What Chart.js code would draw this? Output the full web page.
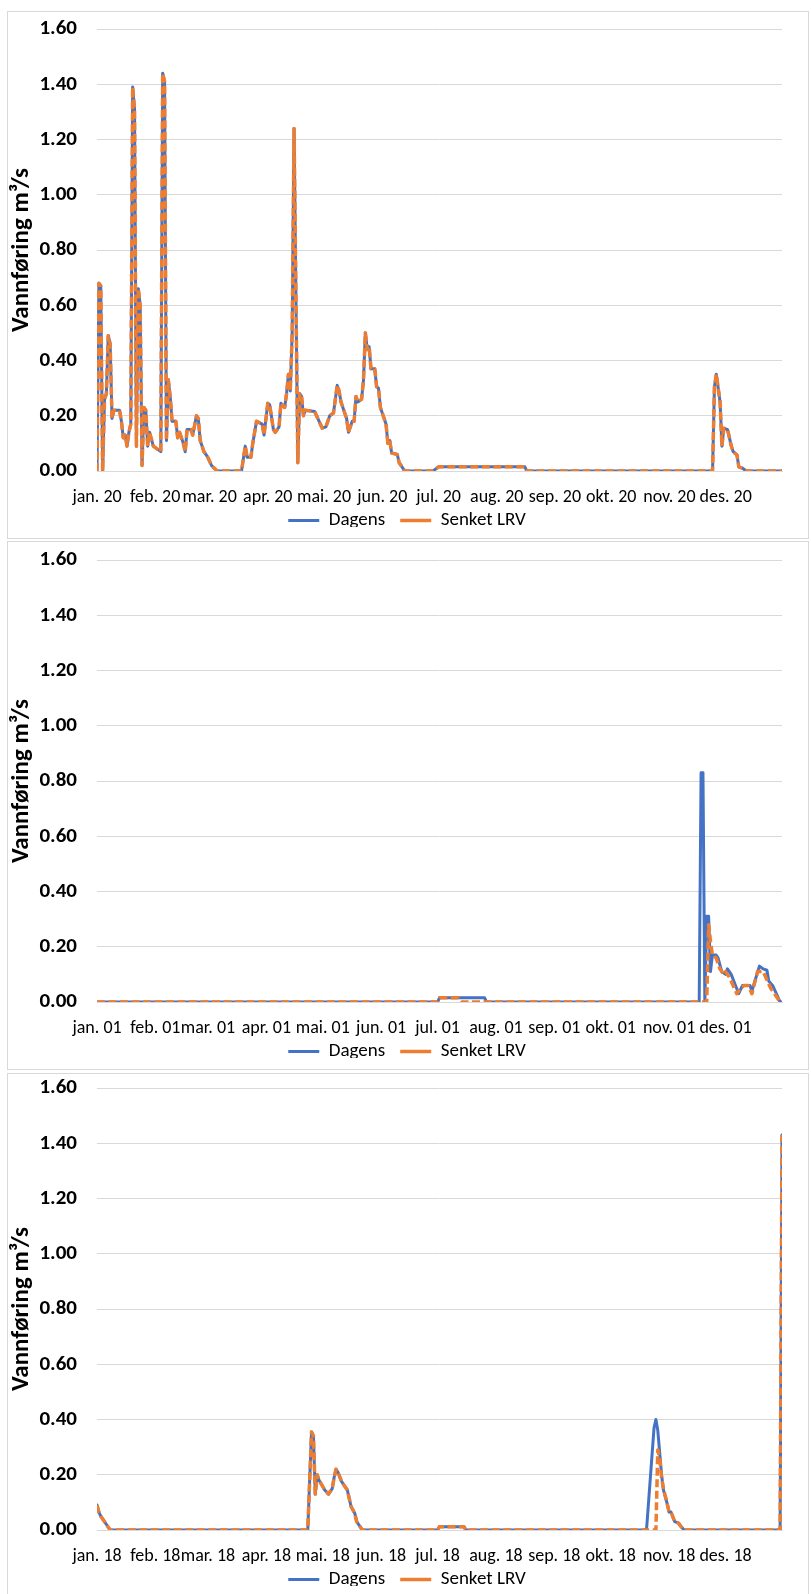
<!DOCTYPE html>
<html>
<head>
<meta charset="utf-8">
<script src="https://cdn.jsdelivr.net/npm/chart.js@4.4.1/dist/chart.umd.min.js"></script>
<style>
  html, body { margin: 0; padding: 0; background: #ffffff; }
  body { position: relative; width: 811px; height: 1594px; overflow: hidden; }
  .frame { position: absolute; left: 7px; width: 802px; border: 1px solid #d9d9d9; box-sizing: border-box; }
  canvas { position: absolute; left: 0; }
</style>
</head>
<body>
<div class="frame" style="top:11px;height:528px;"></div>
<div class="frame" style="top:541px;height:529px;"></div>
<div class="frame" style="top:1073px;height:540px;"></div>
<canvas id="c2020" width="811" height="527" style="top:11px;"></canvas>
<canvas id="c2001" width="811" height="527" style="top:542px;"></canvas>
<canvas id="c2018" width="811" height="527" style="top:1070px;"></canvas>
<script>
// Daily discharge (m³/s), day of year counted from 0, one panel per year.
const monthNames = ['jan.', 'feb.', 'mar.', 'apr.', 'mai.', 'jun.', 'jul.', 'aug.', 'sep.', 'okt.', 'nov.', 'des.'];
const monthStartsLeap = [0, 31, 60, 91, 121, 152, 182, 213, 244, 274, 305, 335];
const monthStarts = [0, 31, 59, 90, 120, 151, 181, 212, 243, 273, 304, 334];
const yTicks = [0, 0.2, 0.4, 0.6, 0.8, 1.0, 1.2, 1.4, 1.6];

// 2020 — both scenarios coincide
const days2020 = [0, 1, 2, 3, 4, 5, 6, 7, 8, 9, 12, 13, 14, 15, 16, 17, 18, 19, 20, 21, 22, 23, 24, 25, 26, 27, 28, 30, 32, 34, 35, 36, 37, 38, 39, 40, 42, 43, 44, 46, 47, 48, 50, 51, 53, 54, 55, 57, 59, 61, 64, 77, 79, 80, 82, 83, 85, 88, 89, 91, 92, 94, 95, 97, 98, 100, 101, 102, 103, 104, 105, 107, 108, 109, 110, 111, 116, 118, 120, 122, 124, 126, 127, 128, 129, 130, 132, 133, 134, 136, 137, 138, 139, 141, 142, 143, 144, 145, 146, 148, 149, 150, 151, 152, 154, 155, 156, 157, 160, 161, 164, 179, 182, 228, 229, 328, 329, 330, 331, 332, 333, 334, 336, 338, 339, 341, 342, 344, 346, 365];
const flow2020 = [0, 0.68, 0.67, 0, 0.26, 0.28, 0.49, 0.46, 0.19, 0.22, 0.22, 0.18, 0.12, 0.13, 0.09, 0.14, 0.17, 1.39, 1.31, 0.09, 0.66, 0.60, 0.02, 0.23, 0.22, 0.09, 0.14, 0.09, 0.08, 0.07, 1.44, 1.41, 0.11, 0.33, 0.27, 0.18, 0.18, 0.12, 0.14, 0.10, 0.07, 0.15, 0.15, 0.13, 0.20, 0.19, 0.11, 0.07, 0.05, 0.02, 0, 0, 0.09, 0.05, 0.05, 0.10, 0.18, 0.17, 0.13, 0.245, 0.24, 0.15, 0.14, 0.16, 0.245, 0.23, 0.28, 0.35, 0.29, 0.50, 1.24, 0.03, 0.28, 0.27, 0.20, 0.22, 0.215, 0.185, 0.155, 0.16, 0.20, 0.21, 0.26, 0.31, 0.29, 0.25, 0.21, 0.19, 0.14, 0.18, 0.18, 0.27, 0.25, 0.26, 0.33, 0.50, 0.44, 0.45, 0.37, 0.37, 0.305, 0.30, 0.23, 0.21, 0.17, 0.10, 0.11, 0.065, 0.06, 0.03, 0, 0, 0.015, 0.015, 0, 0, 0.305, 0.35, 0.30, 0.25, 0.09, 0.155, 0.15, 0.09, 0.07, 0.058, 0.015, 0.01, 0, 0];

// 2001
const daysDagens2001 = [0, 181, 182, 206, 207, 320, 321, 322, 323, 324, 325, 326, 327, 329, 330, 332, 334, 335, 337, 339, 341, 343, 347, 348, 352, 354, 356, 357, 359, 361, 363, 364];
const dagens2001 = [0, 0, 0.015, 0.015, 0, 0, 0.83, 0.83, 0, 0.31, 0.31, 0.11, 0.17, 0.17, 0.16, 0.11, 0.10, 0.12, 0.10, 0.065, 0.03, 0.06, 0.06, 0.04, 0.13, 0.12, 0.115, 0.075, 0.06, 0.03, 0, 0];
const daysSenket2001 = [0, 181, 182, 192, 194, 324, 325, 326, 327, 329, 331, 333, 334, 336, 338, 340, 342, 344, 346, 348, 351, 354, 356, 358, 360, 362, 363, 364];
const senket2001 = [0, 0, 0.015, 0.015, 0, 0, 0.28, 0.22, 0.17, 0.16, 0.12, 0.10, 0.11, 0.09, 0.06, 0.03, 0.05, 0.06, 0.06, 0.03, 0.11, 0.11, 0.08, 0.05, 0.03, 0.01, 0, 0];

// 2018
const daysDagens2018 = [0, 1, 2, 3, 4, 5, 6, 7, 112, 114, 115, 116, 117, 118, 121, 123, 125, 126, 127, 128, 130, 131, 133, 135, 137, 138, 141, 181, 182, 195, 196, 292, 296, 297, 298, 299, 300, 301, 303, 304, 305, 307, 309, 310, 312, 363, 364];
const dagens2018 = [0.09, 0.065, 0.05, 0.04, 0.03, 0.02, 0.01, 0, 0, 0.355, 0.34, 0.13, 0.20, 0.18, 0.145, 0.13, 0.15, 0.19, 0.22, 0.21, 0.175, 0.165, 0.145, 0.085, 0.06, 0.03, 0, 0, 0.012, 0.012, 0, 0, 0.37, 0.40, 0.36, 0.28, 0.20, 0.145, 0.095, 0.065, 0.065, 0.03, 0.025, 0.015, 0, 0, 1.43];
const daysSenket2018 = [0, 1, 2, 3, 4, 5, 6, 7, 112, 114, 115, 116, 117, 118, 121, 123, 125, 126, 127, 128, 130, 131, 133, 135, 137, 138, 141, 181, 182, 195, 196, 297, 298, 299, 300, 301, 303, 304, 305, 307, 309, 310, 312, 363, 364];
const senket2018 = [0.09, 0.065, 0.05, 0.04, 0.03, 0.02, 0.01, 0, 0, 0.355, 0.34, 0.13, 0.20, 0.18, 0.145, 0.13, 0.15, 0.19, 0.22, 0.21, 0.175, 0.165, 0.145, 0.085, 0.06, 0.03, 0, 0, 0.012, 0.012, 0, 0, 0.29, 0.26, 0.19, 0.15, 0.095, 0.065, 0.065, 0.03, 0.025, 0.015, 0, 0, 1.43];

const FONT = 'Carlito, Lato, "Liberation Sans Narrow", sans-serif';
const BLUE = '#4472C4';
const ORANGE = '#ED7D31';

function toPoints(days, values) {
  return days.map((d, i) => ({ x: d, y: values[i] }));
}

// fixed-height legend strip, drawn a little higher and right of its box
const fixedLegend = {
  id: 'fixedLegend',
  afterInit(chart) {
    const lg = chart.legend;
    if (!lg) return;
    const fit = lg.fit.bind(lg);
    lg.fit = function () { fit(); this.height = 31; };
    const draw = lg.draw.bind(lg);
    lg.draw = function () {
      const ctx = this.ctx;
      ctx.save();
      ctx.translate(16, -11);
      draw();
      ctx.restore();
    };
  }
};

function makeChart(id, yearSuffix, starts, lastDay, dagens, senket) {
  const labelFor = {};
  starts.forEach((d, i) => { labelFor[d] = monthNames[i] + ' ' + yearSuffix; });
  return new Chart(document.getElementById(id), {
    type: 'line',
    data: {
      datasets: [
        {
          label: 'Dagens',
          data: dagens,
          borderColor: BLUE,
          backgroundColor: BLUE,
          borderWidth: 3,
          borderJoinStyle: 'round',
          borderCapStyle: 'round',
          pointRadius: 0,
          pointStyle: 'line',
          tension: 0,
          order: 1
        },
        {
          label: 'Senket LRV',
          data: senket,
          borderColor: ORANGE,
          backgroundColor: ORANGE,
          borderWidth: 3.5,
          borderDash: [8, 3.5],
          borderJoinStyle: 'round',
          pointRadius: 0,
          pointStyle: 'line',
          tension: 0,
          order: 0
        }
      ]
    },
    options: {
      responsive: false,
      animation: false,
      devicePixelRatio: 1,
      layout: { padding: { top: 18, right: 29, bottom: 0, left: 0 } },
      plugins: {
        tooltip: { enabled: false },
        legend: {
          position: 'bottom',
          labels: {
            usePointStyle: true,
            pointStyle: 'line',
            pointStyleWidth: 31,
            padding: 15,
            color: '#000000',
            font: { family: FONT, size: 19 },
            sort: (a, b) => a.datasetIndex - b.datasetIndex
          }
        }
      },
      scales: {
        x: {
          type: 'linear',
          min: 0,
          max: lastDay,
          grid: { display: false, drawTicks: false },
          border: { display: true, color: '#d9d9d9', width: 1 },
          afterBuildTicks(scale) { scale.ticks = starts.map(v => ({ value: v })); },
          afterFit(scale) { scale.height = 36; },
          ticks: {
            autoSkip: false,
            maxRotation: 0,
            minRotation: 0,
            padding: 16,
            color: '#000000',
            font: { family: FONT, size: 18 },
            callback: (v) => labelFor[v] || ''
          }
        },
        y: {
          min: 0,
          max: 1.6,
          afterBuildTicks(scale) { scale.ticks = yTicks.map(v => ({ value: v })); },
          afterFit(scale) {
            scale.width = 97;
            scale.paddingTop = 10;
            scale.paddingBottom = 10;
          },
          grid: { color: '#d9d9d9', lineWidth: 1, drawTicks: false },
          border: { display: false },
          ticks: {
            padding: 20,
            color: '#000000',
            font: { family: FONT, size: 21, weight: 'bold' },
            callback: (v) => Number(v).toFixed(2)
          },
          title: {
            display: true,
            text: 'Vannføring m³/s',
            color: '#000000',
            padding: { top: 7, bottom: 0 },
            font: { family: FONT, size: 25, weight: 'bold' }
          }
        }
      }
    },
    plugins: [fixedLegend]
  });
}

makeChart('c2020', '20', monthStartsLeap, 365, toPoints(days2020, flow2020), toPoints(days2020, flow2020));
makeChart('c2001', '01', monthStarts, 364, toPoints(daysDagens2001, dagens2001), toPoints(daysSenket2001, senket2001));
makeChart('c2018', '18', monthStarts, 364, toPoints(daysDagens2018, dagens2018), toPoints(daysSenket2018, senket2018));
</script>
</body>
</html>
